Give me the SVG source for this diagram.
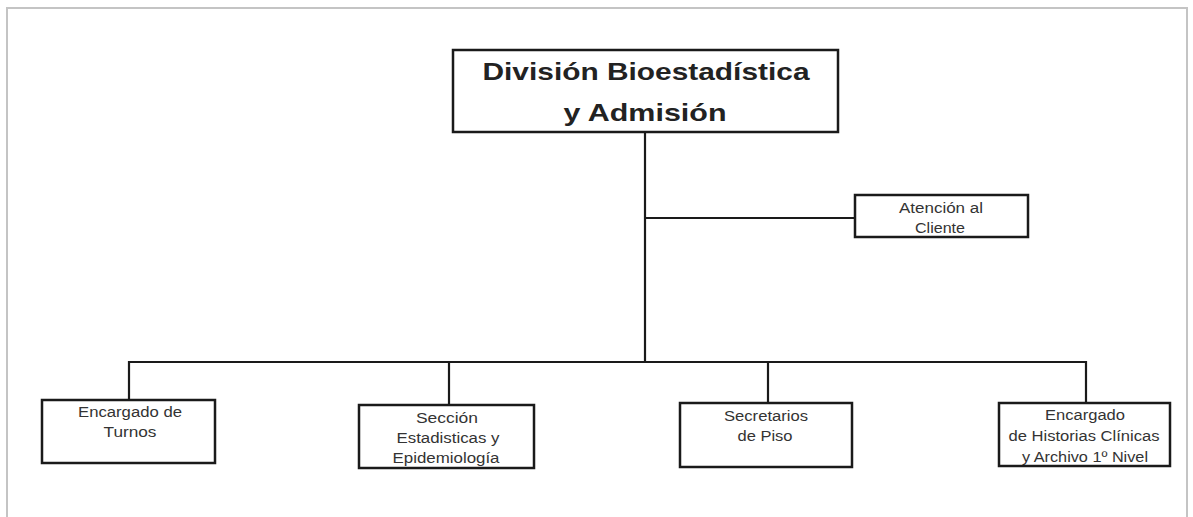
<svg xmlns="http://www.w3.org/2000/svg" width="1193" height="517" viewBox="0 0 1193 517">
<style>
.box{fill:#fff;stroke:#1a1a1a;stroke-width:2.5}
.line{fill:none;stroke:#1a1a1a;stroke-width:2.2}
.t{font-family:"Liberation Sans",Arial,sans-serif;font-size:14px;fill:#333;text-anchor:middle}
.title{font-family:"Liberation Sans",Arial,sans-serif;font-size:24px;font-weight:bold;fill:#222;text-anchor:middle}
</style>
<rect x="0" y="0" width="1193" height="517" fill="#fff"/>
<polyline points="7,517 7,8 1187,8 1187,517" fill="none" stroke="#c4c4c4" stroke-width="2"/>
<g id="connectors">
<path class="line" d="M645,132 V362"/>
<path class="line" d="M645,218 H855"/>
<path class="line" d="M129,400 V362 H1086 V403"/>
<path class="line" d="M449,362 V405"/>
<path class="line" d="M768,362 V403"/>
</g>
<g id="division">
<rect class="box" x="453" y="50" width="385" height="82"/>
<text class="title" x="646" y="80" textLength="327" lengthAdjust="spacingAndGlyphs">División Bioestadística</text>
<text class="title" x="645" y="121" textLength="163" lengthAdjust="spacingAndGlyphs">y Admisión</text>
</g>
<g id="atencion">
<rect class="box" x="855" y="195" width="173" height="42"/>
<text class="t" x="941" y="213" textLength="84" lengthAdjust="spacingAndGlyphs">Atención al</text>
<text class="t" x="940" y="233" textLength="50" lengthAdjust="spacingAndGlyphs">Cliente</text>
</g>
<g id="turnos">
<rect class="box" x="42" y="400" width="173" height="63"/>
<text class="t" x="130" y="417" textLength="104" lengthAdjust="spacingAndGlyphs">Encargado de</text>
<text class="t" x="130" y="437" textLength="53" lengthAdjust="spacingAndGlyphs">Turnos</text>
</g>
<g id="estadisticas">
<rect class="box" x="359" y="405" width="175" height="63"/>
<text class="t" x="447" y="423" textLength="62" lengthAdjust="spacingAndGlyphs">Sección</text>
<text class="t" x="448" y="443" textLength="103" lengthAdjust="spacingAndGlyphs">Estadisticas y</text>
<text class="t" x="446" y="463" textLength="107" lengthAdjust="spacingAndGlyphs">Epidemiología</text>
</g>
<g id="secretarios">
<rect class="box" x="680" y="403" width="172" height="64"/>
<text class="t" x="766" y="421" textLength="84" lengthAdjust="spacingAndGlyphs">Secretarios</text>
<text class="t" x="765" y="441" textLength="55" lengthAdjust="spacingAndGlyphs">de Piso</text>
</g>
<g id="historias">
<rect class="box" x="999" y="403" width="171" height="63"/>
<text class="t" x="1085" y="420" textLength="80" lengthAdjust="spacingAndGlyphs">Encargado</text>
<text class="t" x="1084" y="441" textLength="151" lengthAdjust="spacingAndGlyphs">de Historias Clínicas</text>
<text class="t" x="1085" y="462" textLength="126" lengthAdjust="spacingAndGlyphs">y Archivo 1º Nivel</text>
</g>
</svg>
